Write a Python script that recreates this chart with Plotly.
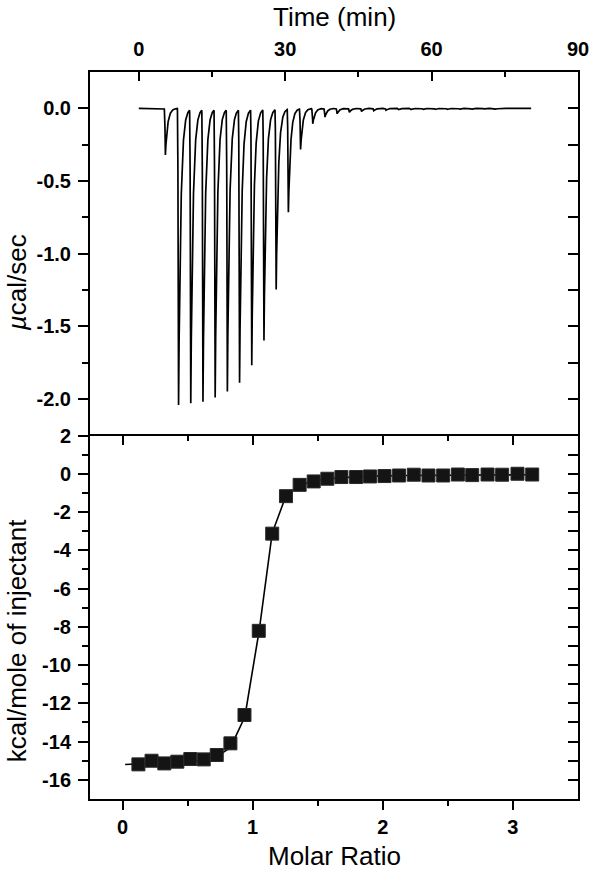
import numpy as np
import plotly.graph_objects as go

# ---------------- data ----------------
# Top panel: raw ITC thermogram (injection times in min, peak minima in ucal/sec)
inj_times = [5.2, 7.9, 10.4, 12.9, 15.4, 17.9, 20.4, 22.9, 25.4, 27.9, 30.4,
             32.9, 35.4, 37.9, 40.4, 42.9, 45.4, 47.9, 50.4, 52.9, 55.4,
             57.9, 60.4, 62.9, 65.4, 67.9, 70.4, 72.9, 75.4, 77.9]
inj_peaks = [-0.32, -2.04, -2.02, -2.01, -1.98, -1.94, -1.88, -1.76, -1.59,
             -1.24, -0.71, -0.28, -0.105, -0.06, -0.037, -0.027, -0.021,
             -0.016, -0.013, -0.011, -0.010, -0.009, -0.008, -0.008, -0.007,
             -0.007, -0.006, -0.006, -0.005, -0.005]
time_start = 0.0
time_end = 80.4

# Bottom panel: integrated heats
molar_ratio = [0.122, 0.223, 0.321, 0.421, 0.521, 0.624, 0.724, 0.829, 0.937,
               1.047, 1.150, 1.256, 1.361, 1.469, 1.574, 1.682, 1.795, 1.902,
               2.013, 2.125, 2.238, 2.351, 2.464, 2.577, 2.687, 2.805, 2.917,
               3.035, 3.148]
heat = [-15.19, -15.00, -15.14, -15.05, -14.91, -14.93, -14.70, -14.09, -12.61,
        -8.21, -3.13, -1.17, -0.58, -0.40, -0.26, -0.17, -0.17, -0.14, -0.12,
        -0.09, -0.05, -0.09, -0.09, -0.04, -0.07, -0.04, -0.05, 0.00, -0.04]
fit_ratio = [0.02, 0.12, 0.22, 0.32, 0.42, 0.52, 0.62, 0.72, 0.83, 0.94, 1.05,
             1.15, 1.256, 1.36, 1.47, 1.57, 1.68, 1.80, 1.90, 2.00, 2.20, 2.40,
             2.60, 2.80, 3.00, 3.15]
fit_heat = [-15.20, -15.17, -15.15, -15.12, -15.09, -15.04, -14.96, -14.80,
            -14.30, -12.70, -8.20, -3.10, -1.15, -0.60, -0.38, -0.27, -0.20,
            -0.16, -0.13, -0.11, -0.09, -0.08, -0.07, -0.06, -0.05, -0.05]

# tick labels
time_ticks = [0, 30, 60, 90]
time_ticktext = ["0", "30", "60", "90"]
power_ticks = [-2.0, -1.5, -1.0, -0.5, 0.0]
power_ticktext = ["-2.0", "-1.5", "-1.0", "-0.5", "0.0"]
ratio_ticks = [0, 1, 2, 3]
ratio_ticktext = ["0", "1", "2", "3"]
heat_ticks = [-16, -14, -12, -10, -8, -6, -4, -2, 0, 2]
heat_ticktext = ["-16", "-14", "-12", "-10", "-8", "-6", "-4", "-2", "0", "2"]

# ---------------- build thermogram curve from injections ----------------
RISE = 0.25   # min, time to reach minimum
TAU = 0.45    # min, recovery time constant
t = np.round(np.arange(time_start, time_end + 1e-9, 0.01), 3)
power = np.zeros_like(t)
for t0, a in zip(inj_times, inj_peaks):
    dt = t - t0
    m1 = (dt >= 0) & (dt < RISE)
    m2 = dt >= RISE
    power[m1] += a * (dt[m1] / RISE) ** 2
    power[m2] += a * np.exp(-(dt[m2] - RISE) / TAU)

# ---------------- figure ----------------
FONT = "Liberation Sans, Arial, Helvetica, sans-serif"
tickfont = dict(family=FONT, size=20, color="black", weight="bold")

fig = go.Figure()
fig.add_trace(go.Scatter(x=t, y=power, xaxis="x", yaxis="y", mode="lines",
                         line=dict(color="black", width=1.7), hoverinfo="skip"))
fig.add_trace(go.Scatter(x=fit_ratio, y=fit_heat, xaxis="x2", yaxis="y3",
                         mode="lines", line=dict(color="black", width=1.6)))
fig.add_trace(go.Scatter(x=molar_ratio, y=heat, xaxis="x2", yaxis="y3",
                         mode="markers",
                         marker=dict(symbol="square", size=13, color="#141414",
                                     line=dict(color="#2a2a2a", width=1))))
# empty traces so the overlay (frame) axes get their own subplots
fig.add_trace(go.Scatter(x=[], y=[], xaxis="x", yaxis="y2", showlegend=False))
fig.add_trace(go.Scatter(x=[], y=[], xaxis="x3", yaxis="y3", showlegend=False))
fig.add_trace(go.Scatter(x=[], y=[], xaxis="x2", yaxis="y4", showlegend=False))

common = dict(showline=True, linecolor="#000000", linewidth=2, showgrid=False,
              zeroline=False, tickcolor="#000000", tickwidth=2, tickfont=tickfont)

layout = dict(
    width=600, height=870,
    margin=dict(l=90, r=11, t=72, b=71),
    paper_bgcolor="white", plot_bgcolor="rgba(0,0,0,0)",
    showlegend=False,
    xaxis=dict(domain=[0, 1], anchor="y", side="top", range=[-10, 90],
               tickmode="array", tickvals=time_ticks, ticktext=time_ticktext,
               ticks="inside", ticklen=9, ticklabelstandoff=6,
               ticklabeloverflow="allow",
               minor=dict(tickmode="array", tickvals=[15, 45, 75], ticks="inside",
                          ticklen=5, tickwidth=2, tickcolor="#000000"),
               **common),
    yaxis=dict(domain=[0.5, 1], anchor="x", range=[-2.25, 0.25],
               tickmode="array", tickvals=power_ticks, ticktext=power_ticktext,
               ticks="outside", ticklen=10, ticklabelstandoff=3,
               minor=dict(tickmode="array", tickvals=[-1.75, -1.25, -0.75, -0.25],
                          ticks="outside", ticklen=6, tickwidth=2, tickcolor="#000000"),
               **common),
    yaxis2=dict(overlaying="y", anchor="x", side="right", range=[-2.25, 0.25],
                tickmode="array",
                tickvals=[-2.0, -1.75, -1.5, -1.25, -1.0, -0.75, -0.5, -0.25, 0.0],
                ticks="inside", ticklen=10, showticklabels=False, **common),
    xaxis2=dict(domain=[0, 1], anchor="y3", side="bottom", range=[-0.25, 3.5],
                tickmode="array", tickvals=ratio_ticks, ticktext=ratio_ticktext,
                ticks="outside", ticklen=9,
                minor=dict(tickmode="array", tickvals=[0.5, 1.5, 2.5],
                           ticks="outside", ticklen=5, tickwidth=2, tickcolor="#000000"),
                **common),
    xaxis3=dict(overlaying="x2", anchor="y3", side="top", range=[-0.25, 3.5],
                tickmode="array", tickvals=ratio_ticks, ticks="inside", ticklen=9,
                showticklabels=False,
                minor=dict(tickmode="array", tickvals=[0.5, 1.5, 2.5],
                           ticks="inside", ticklen=5, tickwidth=2, tickcolor="#000000"),
                **common),
    yaxis3=dict(domain=[0, 0.5], anchor="x2", range=[-17, 2],
                tickmode="array", tickvals=heat_ticks, ticktext=heat_ticktext,
                ticks="outside", ticklen=10, ticklabelstandoff=3,
                minor=dict(tickmode="array",
                           tickvals=[-15, -13, -11, -9, -7, -5, -3, -1, 1],
                           ticks="outside", ticklen=6, tickwidth=2, tickcolor="#000000"),
                **common),
    yaxis4=dict(overlaying="y3", anchor="x2", side="right", range=[-17, 2],
                tickmode="array", tickvals=list(range(-16, 2)),
                ticks="inside", ticklen=10, showticklabels=False, **common),
)
fig.update_layout(**layout)

title_font = dict(family=FONT, size=26, color="black")
fig.add_annotation(text="Time (min)", xref="paper", yref="paper", x=0.5, y=1.0763,
                   xanchor="center", yanchor="middle", showarrow=False, font=title_font)
fig.add_annotation(text="Molar Ratio", xref="paper", yref="paper", x=0.5, y=-0.0785,
                   xanchor="center", yanchor="middle", showarrow=False, font=title_font)
fig.add_annotation(text="<i>µ</i>cal/sec", xref="paper", yref="paper", x=-0.149, y=0.7098,
                   xanchor="center", yanchor="middle", textangle=-90, showarrow=False,
                   font=title_font)
fig.add_annotation(text="kcal/mole of injectant", xref="paper", yref="paper",
                   x=-0.149, y=0.2187, xanchor="center", yanchor="middle",
                   textangle=-90, showarrow=False, font=title_font)

fig.write_html("out.html", config={"displayModeBar": False},
               post_script="document.body.style.margin='0';document.body.style.padding='0';")
